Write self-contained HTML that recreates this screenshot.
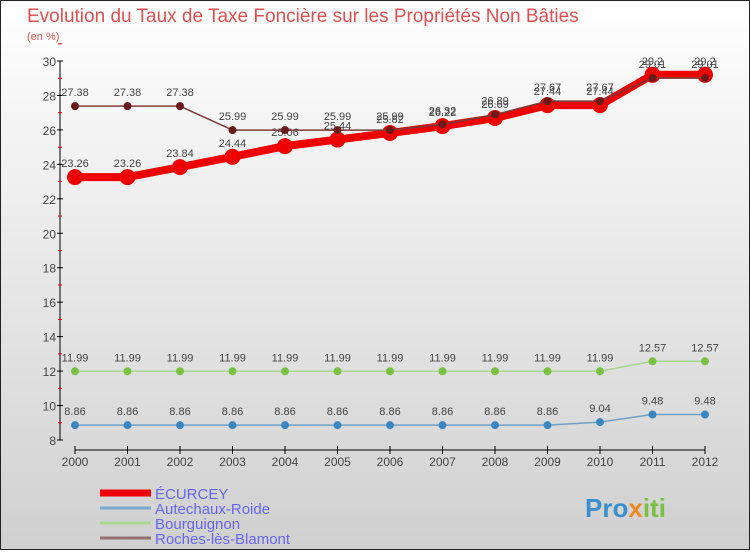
<!DOCTYPE html>
<html><head><meta charset="utf-8"><style>
body{margin:0;width:750px;height:550px;overflow:hidden;font-family:"Liberation Sans",sans-serif}
svg text{font-family:"Liberation Sans",sans-serif}
</style></head><body>
<svg id="c" width="750" height="550" xmlns="http://www.w3.org/2000/svg">
<defs><linearGradient id="bg" x1="0" y1="0" x2="0" y2="1"><stop offset="0" stop-color="#ffffff"/><stop offset="1" stop-color="#d0d0d0"/></linearGradient></defs>
<rect x="0.5" y="0.5" width="749" height="549" fill="url(#bg)" stroke="#222"/>
<text x="27" y="22" font-size="19" fill="#e05050">Evolution du Taux de Taxe Foncière sur les Propriétés Non Bâties</text>
<text x="27" y="40" font-size="11" fill="#e05050">(en %)</text>
<g id="axes"></g><g id="series"></g><g id="legend"></g>
<text x="585" y="517" font-size="26" font-weight="bold" fill="#3a8fd0">Pro<tspan fill="#f08a20">x</tspan><tspan fill="#7ac043">iti</tspan></text>
</svg>
<script>
const years=[2000,2001,2002,2003,2004,2005,2006,2007,2008,2009,2010,2011,2012];
const yTicks=[8,10,12,14,16,18,20,22,24,26,28,30];
const ecurcey=[23.26,23.26,23.84,24.44,25.06,25.44,25.82,26.22,26.69,27.44,27.44,29.2,29.2];
const autechaux=[8.86,8.86,8.86,8.86,8.86,8.86,8.86,8.86,8.86,8.86,9.04,9.48,9.48];
const bourguignon=[11.99,11.99,11.99,11.99,11.99,11.99,11.99,11.99,11.99,11.99,11.99,12.57,12.57];
const roches=[27.38,27.38,27.38,25.99,25.99,25.99,25.99,26.32,26.89,27.67,27.67,29.01,29.01];
const NS="http://www.w3.org/2000/svg";
const xS=i=>75+i*52.5;
const yS=v=>440-(v-8)*(379/22);
function mk(p,t,a){const e=document.createElementNS(NS,t);for(const k in a)e.setAttribute(k,a[k]);p.appendChild(e);return e;}
const ax=document.getElementById('axes');
let l=mk(ax,'line',{x1:60,y1:yS(30),x2:60,y2:yS(8),stroke:'#000'});


l=mk(ax,'line',{x1:75,y1:450,x2:705,y2:450,stroke:'#000'});


yTicks.forEach(v=>{
 mk(ax,'line',{x1:57,y1:yS(v),x2:63,y2:yS(v),stroke:'#000'});
 mk(ax,'line',{x1:58,y1:yS(v+1),x2:62,y2:yS(v+1),stroke:'#e00'});
 const t=mk(ax,'text',{x:56,y:yS(v)+5,'font-size':12,fill:'#444','text-anchor':'end'});
 t.textContent=v;
 
 
});
years.forEach((y,i)=>{
 mk(ax,'line',{x1:xS(i),y1:446,x2:xS(i),y2:454,stroke:'#000'});
 const t=mk(ax,'text',{x:xS(i),y:466,'font-size':12,fill:'#444','text-anchor':'middle'});
 t.textContent=y;
 
 
});
const sg=document.getElementById('series');
function draw(vals,color,w,r,dot,name){
 const g=mk(sg,'g',{});
 
 
 const p=mk(g,'polyline',{points:vals.map((v,i)=>xS(i)+','+yS(v)).join(' '),fill:'none',stroke:color,'stroke-width':w,'stroke-linejoin':'round'});
 
 
 vals.forEach((v,i)=>{
  const c=mk(g,'circle',{cx:xS(i),cy:yS(v),r:r,fill:dot});
  
  
  const t=mk(g,'text',{x:xS(i),y:yS(v)-10,'font-size':11,fill:'#444','text-anchor':'middle'});
  t.textContent=v;
  
  
 });
}
draw(autechaux,'#6fa0c8',1.5,4,'#3a86c0','autechaux-roide');
draw(bourguignon,'#a8d890',1.5,4,'#7ac043','bourguignon');
draw(ecurcey,'#ee0000',8,8,'#ee0000','ecurcey');
draw(roches,'#7a3a3a',1.5,4,'#6a1a1a','roches-les-blamont');
const lg=document.getElementById('legend');
const items=[['ÉCURCEY','#ee0000',7],['Autechaux-Roide','#7aa8cc',3],['Bourguignon','#a8d890',3],['Roches-lès-Blamont','#957070',3]];
items.forEach((it,i)=>{
 const y=493+i*15;
 const g=mk(lg,'g',{});
 
 
 mk(g,'line',{x1:100,y1:y,x2:151,y2:y,stroke:it[1],'stroke-width':it[2]});
 const t=mk(g,'text',{x:155,y:y+6,'font-size':15,fill:'#6666ee'});
 t.textContent=it[0];
});
</script>
</body></html>
